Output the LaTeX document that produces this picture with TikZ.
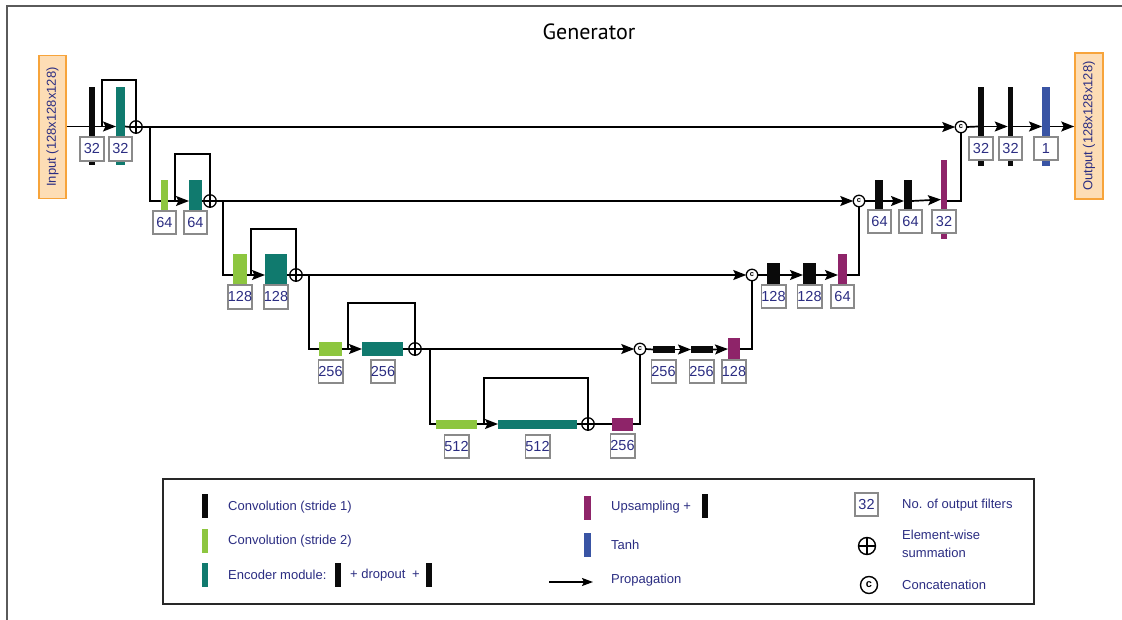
\documentclass[tikz,border=0pt]{standalone}
\usepackage{fontspec}
\usepackage{graphicx}
\setmainfont{Liberation Sans}
\newfontfamily\titlefont{PT Sans}
\usetikzlibrary{arrows.meta}
\definecolor{navy}{RGB}{43,45,130}
\definecolor{convk}{RGB}{10,10,10}
\definecolor{lgreen}{RGB}{141,198,63}
\definecolor{tealb}{RGB}{16,122,110}
\definecolor{magen}{RGB}{142,36,105}
\definecolor{tanhb}{RGB}{57,84,164}
\definecolor{lbgray}{RGB}{138,138,138}
\definecolor{orfill}{RGB}{253,221,181}
\definecolor{ordraw}{RGB}{247,164,59}
\definecolor{framegray}{RGB}{90,90,90}
\definecolor{legbord}{RGB}{40,40,40}
\newcommand{\BarN}[6]{\node[barst, fill=#6, minimum width=#4, minimum height=#5] (#1) at (#2,#3) {};}
\newcommand{\LabN}[4]{\node[labst] (#1) at (#2,#3) {#4};}
\tikzset{
  barst/.style={rectangle, draw=none, inner sep=0pt, outer sep=0pt},
  labst/.style={rectangle, draw=lbgray, line width=1.8pt, fill=white, minimum width=23.5pt, minimum height=23.5pt, inner sep=0pt, font=\fontsize{14.5}{15}\selectfont, text=navy},
  sumst/.style={circle, draw, line width=1.3pt, fill=white, minimum size=12.5pt, inner sep=0pt, outer sep=0pt,
    path picture={\draw[line width=1.2pt] (path picture bounding box.north) -- (path picture bounding box.south) (path picture bounding box.west) -- (path picture bounding box.east);}},
  catst/.style={circle, draw, line width=1.3pt, fill=white, minimum size=11.5pt, inner sep=0pt, outer sep=0pt, font=\fontsize{7.5}{7.5}\selectfont\bfseries},
  iost/.style={rectangle, draw=ordraw, fill=orfill, line width=1.6pt, inner sep=0pt, text=navy, font=\fontsize{13}{13}\selectfont},
  conn/.style={line width=1.7pt, draw=black},
  arr/.style={conn, -{Stealth[length=13pt,width=10pt,inset=2.5pt]}},
  legst/.style={anchor=west, text=navy, font=\fontsize{13}{18}\selectfont, inner sep=0pt},
}
\begin{document}
\begin{tikzpicture}[x=1pt,y=-1pt]
\useasboundingbox (0,0) rectangle (1122,620);
\fill[white] (0,0) rectangle (1122,620);
\draw[line width=1.5pt, draw=framegray] (7,620) -- (7,6) -- (1122,6);
\node[font=\titlefont\fontsize{22}{24}\selectfont] (title) at (589,32) {Generator};

% input / output
\node[iost, minimum width=27, minimum height=143] (inp) at (52.5,127) {\rotatebox{90}{Input (128x128x128)}};
\node[iost, minimum width=28, minimum height=146] (out) at (1089,126) {\rotatebox{90}{Output (128x128x128)}};

% ---------- encoder bars ----------
\BarN{conv1}{91.75}{126.5}{6.5}{78}{convk}
\BarN{enc1}{120.5}{126.5}{9}{78}{tealb}
\BarN{g2}{164.5}{201}{7}{42}{lgreen}
\BarN{enc2}{195.5}{201}{13}{42}{tealb}
\BarN{g3}{240}{275}{14}{42}{lgreen}
\BarN{enc3}{276}{275}{22}{42}{tealb}
\BarN{g4}{330.5}{349}{23}{14}{lgreen}
\BarN{enc4}{382.5}{349}{41}{14}{tealb}
\BarN{g5}{456.5}{424}{41}{9}{lgreen}
\BarN{enc5}{537.5}{424}{79}{9}{tealb}
% ---------- decoder bars ----------
\BarN{up5}{622.5}{424}{21}{13}{magen}
\BarN{d4a}{664}{349.5}{22}{7}{convk}
\BarN{d4b}{702}{349.5}{22}{7}{convk}
\BarN{up4}{734}{349}{12}{22}{magen}
\BarN{d3a}{773.5}{275}{13}{24}{convk}
\BarN{d3b}{809.5}{275}{13}{24}{convk}
\BarN{up3}{842.5}{275}{9}{42}{magen}
\BarN{d2a}{879}{201}{8}{42}{convk}
\BarN{d2b}{908}{201}{8}{42}{convk}
\BarN{up2}{944}{199.5}{6}{79}{magen}
\BarN{d1a}{981}{126.5}{6}{79}{convk}
\BarN{d1b}{1010.5}{126.5}{5.5}{79}{convk}
\BarN{tanh}{1046}{126.5}{8}{79}{tanhb}

% ---------- labels ----------
\LabN{l1a}{92}{149}{32}
\LabN{l1b}{120.5}{149}{32}
\LabN{l2a}{164.5}{222.5}{64}
\LabN{l2b}{195.5}{222.5}{64}
\LabN{l3a}{240}{297}{128}
\LabN{l3b}{276}{297}{128}
\LabN{l4a}{330.5}{371.5}{256}
\LabN{l4b}{383}{371.5}{256}
\LabN{l5a}{456.5}{446.5}{512}
\LabN{l5b}{537.5}{446.5}{512}
\LabN{lu5}{622.5}{446}{256}
\LabN{ld4a}{663.5}{371.5}{256}
\LabN{ld4b}{701.5}{371.5}{256}
\LabN{lu4}{734}{371.5}{128}
\LabN{ld3a}{773.5}{296.5}{128}
\LabN{ld3b}{809.5}{296.5}{128}
\LabN{lu3}{842.5}{296.5}{64}
\LabN{ld2a}{879.5}{221.5}{64}
\LabN{ld2b}{910.5}{221.5}{64}
\LabN{lu2}{944}{221.5}{32}
\LabN{ld1a}{981}{148.5}{32}
\LabN{ld1b}{1010.5}{148.5}{32}
\LabN{ltanh}{1046}{148.5}{1}

% ---------- summation and concatenation ----------
\node[sumst] (s1) at (136,127) {};
\node[sumst] (s2) at (210,201) {};
\node[sumst] (s3) at (296,275) {};
\node[sumst] (s4) at (415,349) {};
\node[sumst] (s5) at (588,424) {};
\node[catst] (c4) at (640,349) {c};
\node[catst] (c3) at (752,275) {c};
\node[catst] (c2) at (859,201) {c};
\node[catst] (c1) at (961,127) {c};

% ---------- helper coordinates ----------
\coordinate (k1) at (102,127);  \coordinate (t1) at (102,80);
\coordinate (k2) at (175,201);  \coordinate (t2) at (175,154);
\coordinate (k3) at (251,275);  \coordinate (t3) at (251,229);
\coordinate (k4) at (348,349);  \coordinate (t4) at (348,303);
\coordinate (k5) at (484,424);  \coordinate (t5) at (484,378);
\coordinate (b1) at (150,127);
\coordinate (b2) at (223,201);
\coordinate (b3) at (309,275);
\coordinate (b4) at (430,349);

% ---------- encoder connectors ----------
\draw[conn] (inp.east |- conv1.west) -- (conv1.west);
\draw[arr] (conv1.east) -- (enc1.west);
\draw[conn] (enc1.east) -- (s1.west);
\draw[conn] (k1) -- (t1) -| (s1.north);
\draw[arr] (s1.east) -- (c1.west);
\draw[conn] (b1) |- (g2.west);

\draw[arr] (g2.east) -- (enc2.west);
\draw[conn] (enc2.east) -- (s2.west);
\draw[conn] (k2) -- (t2) -| (s2.north);
\draw[arr] (s2.east) -- (c2.west);
\draw[conn] (b2) |- (g3.west);

\draw[arr] (g3.east) -- (enc3.west);
\draw[conn] (enc3.east) -- (s3.west);
\draw[conn] (k3) -- (t3) -| (s3.north);
\draw[arr] (s3.east) -- (c3.west);
\draw[conn] (b3) |- (g4.west);

\draw[arr] (g4.east) -- (enc4.west);
\draw[conn] (enc4.east) -- (s4.west);
\draw[conn] (k4) -- (t4) -| (s4.north);
\draw[arr] (s4.east) -- (c4.west);
\draw[conn] (b4) |- (g5.west);

\draw[arr] (g5.east) -- (enc5.west);
\draw[conn] (enc5.east) -- (s5.west);
\draw[conn] (k5) -- (t5) -| (s5.north);
\draw[conn] (s5.east) -- (up5.west);

% ---------- decoder connectors ----------
\draw[conn] (up5.east) -| (c4.south);
\draw[conn] (c4.east) -- (d4a.west);
\draw[arr] (d4a.east) -- (d4b.west);
\draw[arr] (d4b.east) -- (up4.west);
\draw[conn] (up4.east) -| (c3.south);
\draw[conn] (c3.east) -- (d3a.west);
\draw[arr] (d3a.east) -- (d3b.west);
\draw[arr] (d3b.east) -- (up3.west);
\draw[conn] (up3.east) -| (c2.south);
\draw[conn] (c2.east) -- (d2a.west);
\draw[arr] (d2a.east) -- (d2b.west);
\draw[arr] (d2b.east) -- (up2.west);
\draw[conn] (up2.east |- c2.east) -| (c1.south);
\draw[conn] (c1.east) -- (d1a.west);
\draw[arr] (d1a.east) -- (d1b.west);
\draw[arr] (d1b.east) -- (tanh.west);
\draw[arr] (tanh.east) -- (tanh.east -| out.west);

% ---------- legend ----------
\node[draw=legbord, line width=1.8pt, minimum width=871, minimum height=125, inner sep=0pt] (legbox) at (598.5,541.5) {};
\BarN{lk1}{205}{506}{6}{24}{convk}
\BarN{lg}{205}{541}{6}{24}{lgreen}
\BarN{lt}{205}{575}{6}{24}{tealb}
\BarN{le1}{338}{575}{6}{24}{convk}
\BarN{le2}{429}{575}{6}{24}{convk}
\BarN{lm}{587.5}{508}{7}{24}{magen}
\BarN{lk2}{705}{506}{6}{24}{convk}
\BarN{lb}{587.5}{544.5}{7}{24}{tanhb}
\node[legst] (tx1) at (228,507) {Convolution (stride 1)};
\node[legst] (tx2) at (228,541) {Convolution (stride 2)};
\node[legst] (tx3) at (228,575) {Encoder module:};
\node[legst] (tx4) at (350,575) {+ dropout\hspace{3pt} +};
\node[legst] (tx5) at (611,507) {Upsampling +};
\node[legst] (tx6) at (611,545) {Tanh};
\node[legst] (tx7) at (611,580) {Propagation};
\coordinate (pa) at (549,582);
\coordinate (pb) at (593,582);
\draw[line width=1.4pt, -{Stealth[length=11pt,width=8pt,inset=2pt]}] (pa) -- (pb);
\node[labst] (lab32) at (866.5,504.5) {32};
\node[legst] (tx8) at (902,505) {No. of output filters};
\node[sumst, minimum size=17pt, line width=1.4pt] (lsum) at (867,546) {};
\node[legst, align=left] (tx9) at (902,544) {Element-wise\\summation};
\node[catst, minimum size=17pt, line width=1.4pt, font=\fontsize{11}{11}\selectfont\bfseries] (lcat) at (869,585) {c};
\node[legst] (tx10) at (902,585) {Concatenation};
\end{tikzpicture}
\end{document}
